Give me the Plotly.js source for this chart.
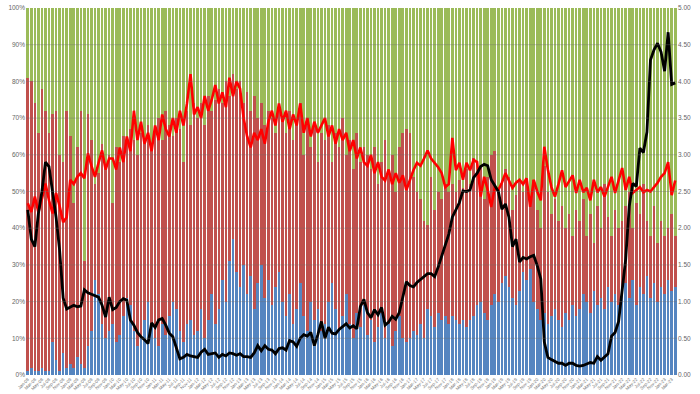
<!DOCTYPE html>
<html>
<head>
<meta charset="utf-8">
<script src="https://cdn.plot.ly/plotly-3.0.1.min.js"></script>
<style>html,body{margin:0;padding:0;background:#fff;}#chart{width:700px;height:394px;}</style>
</head>
<body>
<div id="chart"></div>
<script>
// Monthly auctions, Jan-08 .. Apr-23
const months = [
"Jan-08","Feb-08","Mar-08","Apr-08","May-08","Jun-08","Jul-08","Aug-08","Sep-08","Oct-08","Nov-08","Dec-08",
"Jan-09","Feb-09","Mar-09","Apr-09","May-09","Jun-09","Jul-09","Aug-09","Sep-09","Oct-09","Nov-09","Dec-09",
"Jan-10","Feb-10","Mar-10","Apr-10","May-10","Jun-10","Jul-10","Aug-10","Sep-10","Oct-10","Nov-10","Dec-10",
"Jan-11","Feb-11","Mar-11","Apr-11","May-11","Jun-11","Jul-11","Aug-11","Sep-11","Oct-11","Nov-11","Dec-11",
"Jan-12","Feb-12","Mar-12","Apr-12","May-12","Jun-12","Jul-12","Aug-12","Sep-12","Oct-12","Nov-12","Dec-12",
"Jan-13","Feb-13","Mar-13","Apr-13","May-13","Jun-13","Jul-13","Aug-13","Sep-13","Oct-13","Nov-13","Dec-13",
"Jan-14","Feb-14","Mar-14","Apr-14","May-14","Jun-14","Jul-14","Aug-14","Sep-14","Oct-14","Nov-14","Dec-14",
"Jan-15","Feb-15","Mar-15","Apr-15","May-15","Jun-15","Jul-15","Aug-15","Sep-15","Oct-15","Nov-15","Dec-15",
"Jan-16","Feb-16","Mar-16","Apr-16","May-16","Jun-16","Jul-16","Aug-16","Sep-16","Oct-16","Nov-16","Dec-16",
"Jan-17","Feb-17","Mar-17","Apr-17","May-17","Jun-17","Jul-17","Aug-17","Sep-17","Oct-17","Nov-17","Dec-17",
"Jan-18","Feb-18","Mar-18","Apr-18","May-18","Jun-18","Jul-18","Aug-18","Sep-18","Oct-18","Nov-18","Dec-18",
"Jan-19","Feb-19","Mar-19","Apr-19","May-19","Jun-19","Jul-19","Aug-19","Sep-19","Oct-19","Nov-19","Dec-19",
"Jan-20","Feb-20","Mar-20","Apr-20","May-20","Jun-20","Jul-20","Aug-20","Sep-20","Oct-20","Nov-20","Dec-20",
"Jan-21","Feb-21","Mar-21","Apr-21","May-21","Jun-21","Jul-21","Aug-21","Sep-21","Oct-21","Nov-21","Dec-21",
"Jan-22","Feb-22","Mar-22","Apr-22","May-22","Jun-22","Jul-22","Aug-22","Sep-22","Oct-22","Nov-22","Dec-22",
"Jan-23","Feb-23","Mar-23","Apr-23"
];

// Bottom (blue) share, %
const blueShare = [
1,2,1,1,2,1,1,9,4,1,6,2,
3,2,5,3,2,8,12,26,22,14,10,12,
14,9,11,16,21,19,12,8,10,15,20,13,
10,8,14,11,16,20,18,12,9,14,15,11,
12,18,10,15,22,14,18,26,20,31,37,28,
24,30,22,27,18,25,30,21,26,19,24,28,
20,16,22,14,18,25,16,12,20,15,18,12,
14,20,25,18,12,16,22,14,10,17,13,19,
11,15,9,13,17,10,14,8,12,16,10,9,
10,12,11,14,10,18,16,13,17,15,16,14,
16,15,14,15,13,15,16,19,20,17,15,19,
22,20,25,27,24,21,19,23,28,26,29,20,
18,15,17,14,16,18,15,13,17,15,19,16,
18,22,20,17,23,19,21,18,24,20,22,19,
23,25,21,26,19,24,22,27,21,25,20,24,
22,26,23,24
];

// Middle (red) share, %
const redShare = [
80,78,73,65,76,71,65,62,68,59,52,70,
62,45,57,69,29,63,52,26,33,49,46,48,
33,53,47,49,42,48,52,52,56,48,48,49,
56,62,50,61,52,45,52,55,49,58,53,63,
58,56,58,61,50,61,60,48,60,45,45,50,
56,44,55,45,58,45,44,47,46,51,42,44,
50,50,50,50,50,49,44,58,42,53,40,54,
50,48,33,48,50,54,38,50,46,49,45,43,
49,41,53,39,41,54,41,52,38,46,56,58,
56,42,39,34,32,23,38,32,33,33,36,36,
36,35,39,36,43,37,43,36,37,31,39,41,
39,30,27,29,30,24,30,30,22,27,18,33,
27,25,40,36,28,30,27,33,23,29,19,29,
24,26,18,27,13,27,19,34,19,18,23,21,
19,21,29,14,28,20,30,15,17,21,16,18,
16,14,21,14
];

// Top (green) share, %
const greenShare = [
19,20,26,34,22,28,34,29,28,40,42,28,
35,53,38,28,69,29,36,48,45,37,44,40,
53,38,42,35,37,33,36,40,34,37,32,38,
34,30,36,28,32,35,30,33,42,28,32,26,
30,26,32,24,28,25,22,26,20,24,18,22,
20,26,23,28,24,30,26,32,28,30,34,28,
30,34,28,36,32,26,40,30,38,32,42,34,
36,32,42,34,38,30,40,36,44,34,42,38,
40,44,38,48,42,36,45,40,50,38,34,33,
34,46,50,52,58,59,46,55,50,52,48,50,
48,50,47,49,44,48,41,45,43,52,46,40,
39,50,48,44,46,55,51,47,50,47,53,47,
55,60,43,50,56,52,58,54,60,56,62,55,
58,52,62,56,64,54,60,48,57,62,55,60,
58,54,50,60,53,56,48,58,62,54,64,58,
62,60,56,62
];

// Red line (right axis)
const redLine = [
2.34,2.22,2.43,2.22,2.40,2.61,2.38,2.20,2.48,2.30,2.08,2.15,
2.66,2.60,2.70,2.75,2.68,3.02,2.85,2.70,2.89,3.06,2.80,2.95,
2.95,2.80,3.10,2.90,3.25,3.05,3.60,3.20,3.45,3.15,3.30,3.05,
3.40,3.20,3.55,3.35,3.25,3.50,3.30,3.60,3.40,3.70,4.10,3.55,
3.65,3.50,3.80,3.60,3.75,3.95,3.70,3.85,3.65,4.05,3.80,4.00,
3.90,3.50,3.25,3.10,3.30,3.20,3.35,3.15,3.45,3.60,3.40,3.70,
3.45,3.60,3.35,3.55,3.40,3.70,3.30,3.50,3.25,3.45,3.30,3.40,
3.50,3.25,3.40,3.15,3.35,3.20,3.30,3.05,3.20,2.95,3.10,2.90,
2.85,3.00,2.75,2.90,2.70,2.65,2.80,2.60,2.75,2.62,2.72,2.52,
2.65,2.79,2.89,2.85,2.95,3.06,2.95,2.89,2.83,2.75,2.56,2.60,
3.23,2.79,2.89,2.66,2.89,2.79,2.93,2.90,2.43,2.70,2.52,2.29,
2.56,2.52,2.62,2.75,2.65,2.55,2.62,2.66,2.60,2.68,2.29,2.66,
2.50,2.38,3.11,2.80,2.56,2.43,2.60,2.79,2.56,2.65,2.72,2.48,
2.66,2.49,2.55,2.38,2.66,2.49,2.56,2.43,2.58,2.70,2.48,2.65,
2.82,2.52,2.70,2.48,2.52,2.56,2.49,2.52,2.50,2.56,2.62,2.70,
2.75,2.90,2.45,2.65
];

// Black line (right axis)
const blackLine = [
2.25,1.85,1.75,2.20,2.50,2.90,2.84,2.48,2.15,1.70,1.05,0.90,
0.92,0.95,0.93,0.94,1.16,1.12,1.10,1.08,1.06,0.95,0.79,1.06,
0.89,0.92,1.00,1.04,1.02,0.75,0.68,0.58,0.52,0.48,0.43,0.71,
0.65,0.75,0.77,0.68,0.57,0.52,0.38,0.22,0.24,0.28,0.26,0.25,
0.24,0.31,0.35,0.28,0.29,0.30,0.24,0.28,0.26,0.30,0.29,0.27,
0.29,0.25,0.25,0.24,0.30,0.40,0.33,0.40,0.35,0.34,0.29,0.36,
0.37,0.34,0.47,0.45,0.39,0.50,0.55,0.53,0.58,0.40,0.55,0.73,
0.50,0.65,0.57,0.56,0.62,0.66,0.70,0.64,0.67,0.63,0.93,1.03,
0.85,0.78,0.89,0.82,0.92,0.68,0.72,0.80,0.76,0.85,1.07,1.27,
1.22,1.20,1.26,1.30,1.33,1.38,1.38,1.34,1.47,1.62,1.78,1.92,
2.15,2.25,2.35,2.51,2.50,2.52,2.69,2.75,2.84,2.87,2.85,2.66,
2.58,2.50,2.26,2.33,2.15,1.75,1.85,1.54,1.60,1.58,1.61,1.63,
1.49,1.31,0.45,0.24,0.21,0.19,0.16,0.16,0.13,0.16,0.16,0.13,
0.12,0.13,0.15,0.17,0.16,0.25,0.20,0.24,0.29,0.53,0.58,0.73,
1.19,1.58,2.30,2.61,2.57,3.09,3.03,3.31,4.29,4.43,4.52,4.40,
4.14,4.67,3.96,3.98
];

const leftTicks = [0,10,20,30,40,50,60,70,80,90,100];
const rightTicks = [0,0.5,1,1.5,2,2.5,3,3.5,4,4.5,5];

const tickFont = {family: "Liberation Sans, Arial, sans-serif", size: 6.5, color: "#666666"};

const traces = [
  {type: "bar", x: months, y: blueShare, marker: {color: "#5585C0"}, hoverinfo: "skip"},
  {type: "bar", x: months, y: redShare, marker: {color: "#C0504D"}, hoverinfo: "skip"},
  {type: "bar", x: months, y: greenShare, marker: {color: "#9BBB59"}, hoverinfo: "skip"},
  {type: "scatter", mode: "lines", x: months, y: redLine, yaxis: "y2",
   line: {color: "#FF0000", width: 2.6}, hoverinfo: "skip"},
  {type: "scatter", mode: "lines", x: months, y: blackLine, yaxis: "y2",
   line: {color: "#000000", width: 2.8}, hoverinfo: "skip"}
];

const gridShapes = leftTicks.slice(1, -1).map(v => ({
  type: "line", xref: "paper", x0: 0, x1: 1, yref: "y", y0: v, y1: v,
  line: {color: "rgba(110,110,110,0.35)", width: 1}, layer: "above"
}));

const layout = {
  width: 700, height: 394,
  margin: {l: 26, r: 23, t: 8, b: 19, pad: 0},
  paper_bgcolor: "#ffffff", plot_bgcolor: "#ffffff",
  barmode: "stack", bargap: 0.25,
  showlegend: false,
  font: tickFont,
  xaxis: {
    type: "category", automargin: false,
    tickmode: "array",
    tickvals: months.filter((m, i) => i % 2 === 0),
    ticktext: months.filter((m, i) => i % 2 === 0),
    tickangle: -45, tickfont: {family: "Liberation Sans, Arial, sans-serif", size: 4.5, color: "#777777"},
    ticks: "", showgrid: false, zeroline: false, showline: false
  },
  yaxis: {
    range: [0, 100], tickmode: "array", tickvals: leftTicks,
    ticktext: leftTicks.map(v => v + "%"),
    tickfont: tickFont, showgrid: false, zeroline: false, showline: false,
    automargin: false, ticks: ""
  },
  yaxis2: {
    range: [0, 5], overlaying: "y", side: "right", tickmode: "array",
    tickvals: rightTicks, ticktext: rightTicks.map(v => v.toFixed(2)),
    tickfont: tickFont, showgrid: false, zeroline: false, showline: false,
    automargin: false, ticks: ""
  },
  shapes: gridShapes
};

Plotly.newPlot("chart", traces, layout, {displayModeBar: false, staticPlot: true});
</script>
</body>
</html>
